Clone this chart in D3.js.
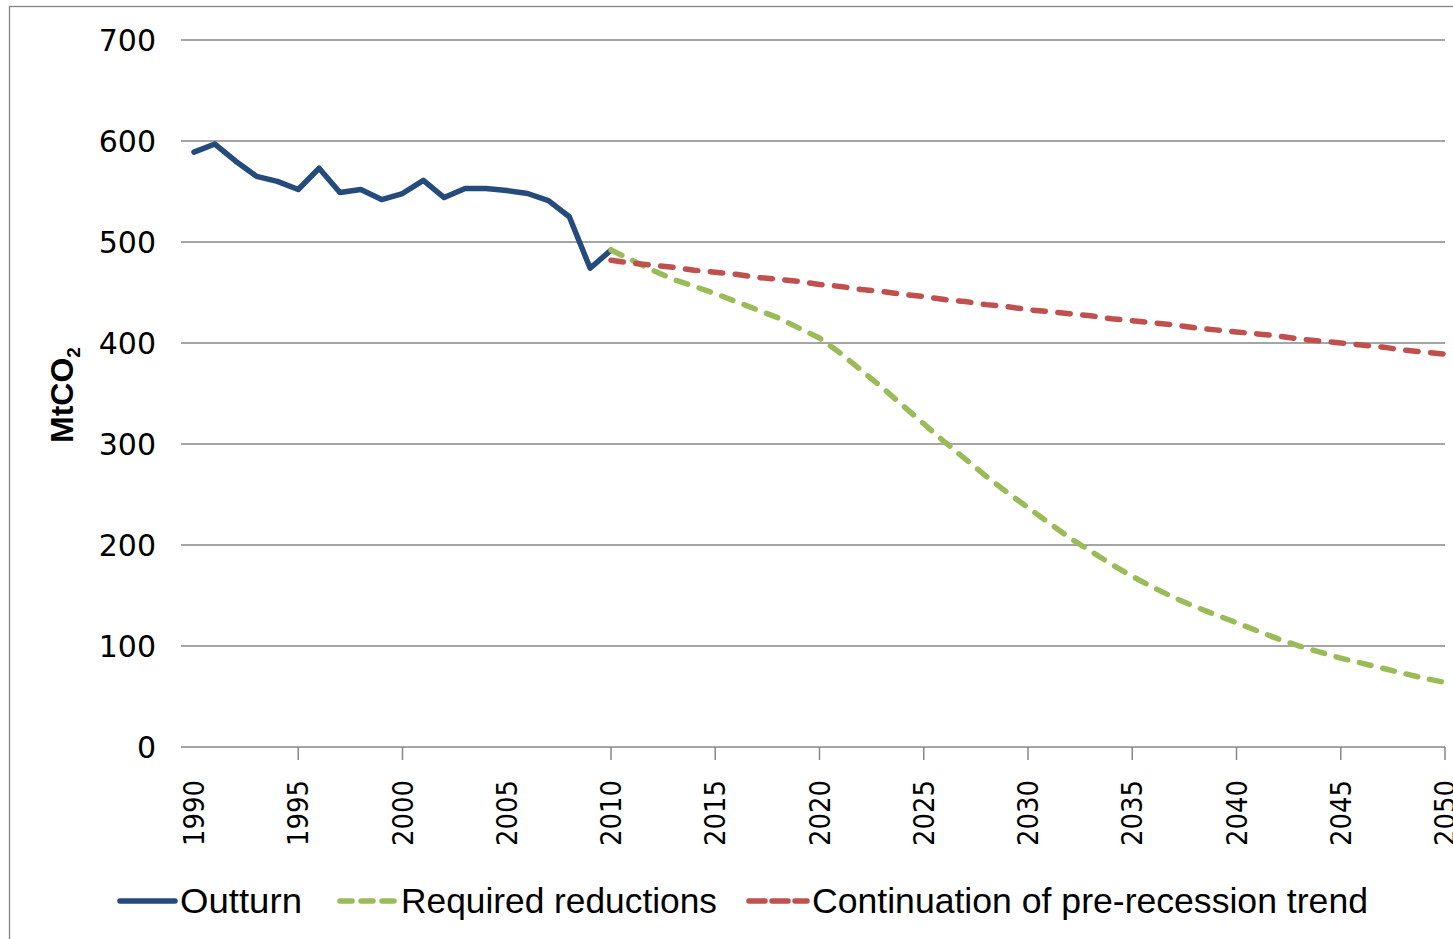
<!DOCTYPE html>
<html>
<head>
<meta charset="utf-8">
<script src="https://cdn.jsdelivr.net/npm/d3@7"></script>
<style>
  html, body { margin: 0; padding: 0; background: #fff; }
  svg { display: block; }
</style>
</head>
<body>
<svg id="chart" width="1453" height="939"></svg>
<script>
// ---- Data ----
const outturnYears = d3.range(1990, 2011);
const outturnValues = [589, 597, 580, 565, 560, 552, 573, 549, 552, 542, 548, 561, 544, 553, 553, 551, 548, 541, 525, 474, 492];

const projYears = d3.range(2010, 2051);
const requiredValues = [492, 482, 472, 463, 456, 449, 441, 433, 425, 415, 405,
  390, 373, 356, 338, 320, 302, 285, 268, 252, 237,
  222, 207, 194, 181, 169, 158, 148, 139, 131, 123,
  115, 107, 100, 94, 88, 83, 78, 73, 68, 64];
const trendValues = [482, 479, 477, 475, 472, 470, 468, 465, 463, 461, 458,
  456, 453, 451, 448, 446, 443, 441, 438, 436, 433,
  431, 429, 427, 424, 422, 420, 418, 415, 413, 411,
  409, 407, 404, 402, 400, 398, 396, 393, 391, 389];

const yTicks = [0, 100, 200, 300, 400, 500, 600, 700];
const xTickLabels = [1990, 1995, 2000, 2005, 2010, 2015, 2020, 2025, 2030, 2035, 2040, 2045, 2050];
const xTickMarks = [1995, 2000, 2010, 2015, 2020, 2025, 2030, 2035, 2040, 2045, 2050];

const seriesNames = ["Outturn", "Required reductions", "Continuation of pre-recession trend"];
const seriesColors = ["#254A7C", "#9BBB59", "#C0504D"];

// ---- Chart ----
const svg = d3.select("#chart");
const plotLeft = 181, plotRight = 1445, plotTop = 40, plotBottom = 747;

const x = d3.scaleLinear().domain([1990, 2050]).range([194, 1445]);
const y = d3.scaleLinear().domain([0, 700]).range([plotBottom, plotTop]);

// outer border
svg.append("rect")
  .attr("x", 9.5).attr("y", 6.5)
  .attr("width", 1470).attr("height", 960)
  .attr("fill", "none").attr("stroke", "#868686").attr("stroke-width", 1.3);

// gridlines
svg.append("g").selectAll("line").data(yTicks.filter(d => d > 0)).join("line")
  .attr("x1", plotLeft).attr("x2", plotRight)
  .attr("y1", d => y(d)).attr("y2", d => y(d))
  .attr("stroke", "#878787").attr("stroke-width", 1.5);

// y axis labels
svg.append("g").selectAll("text").data(yTicks).join("text")
  .attr("x", 156).attr("y", d => y(d))
  .attr("text-anchor", "end").attr("dominant-baseline", "central")
  .attr("font-family", "DejaVu Sans, sans-serif").attr("font-size", 30)
  .attr("fill", "#000").text(d => d);

// x axis line
svg.append("line")
  .attr("x1", plotLeft).attr("x2", plotRight)
  .attr("y1", y(0)).attr("y2", y(0))
  .attr("stroke", "#878787").attr("stroke-width", 1.5);

// tick marks
svg.append("g").selectAll("line").data(xTickMarks).join("line")
  .attr("x1", d => x(d)).attr("x2", d => x(d))
  .attr("y1", y(0)).attr("y2", y(0) + 13)
  .attr("stroke", "#878787").attr("stroke-width", 1.5);

// x tick labels (rotated)
svg.append("g").selectAll("text").data(xTickLabels).join("text")
  .attr("transform", d => `translate(${x(d) + 10},780) rotate(-90)`)
  .attr("text-anchor", "end")
  .attr("font-family", "DejaVu Sans, sans-serif").attr("font-size", 29)
  .attr("textLength", 66).attr("lengthAdjust", "spacingAndGlyphs")
  .attr("fill", "#000").text(d => d);

// y axis title
const yt = svg.append("text")
  .attr("transform", "translate(73,395) rotate(-90)")
  .attr("text-anchor", "middle")
  .attr("font-family", "Liberation Sans, Arial, sans-serif")
  .attr("font-weight", "bold").attr("font-size", 32).attr("fill", "#000");
yt.append("tspan").text("MtCO");
yt.append("tspan").attr("font-size", 19).attr("dy", 7).text("2");

// lines
const line = d3.line().x(d => x(d[0])).y(d => y(d[1]));

svg.append("path")
  .datum(outturnYears.map((yr, i) => [yr, outturnValues[i]]))
  .attr("d", line).attr("fill", "none")
  .attr("stroke", seriesColors[0]).attr("stroke-width", 5.5)
  .attr("stroke-linejoin", "round").attr("stroke-linecap", "round");

svg.append("path")
  .datum(projYears.map((yr, i) => [yr, requiredValues[i]]))
  .attr("d", line).attr("fill", "none")
  .attr("stroke", seriesColors[1]).attr("stroke-width", 5.5)
  .attr("stroke-dasharray", "12,12")
  .attr("stroke-linejoin", "round").attr("stroke-linecap", "round");

svg.append("path")
  .datum(projYears.map((yr, i) => [yr, trendValues[i]]))
  .attr("d", line).attr("fill", "none")
  .attr("stroke", seriesColors[2]).attr("stroke-width", 5.5)
  .attr("stroke-dasharray", "12.5,12.5")
  .attr("stroke-linejoin", "round").attr("stroke-linecap", "round");

// legend
const legendItems = [
  { name: seriesNames[0], color: seriesColors[0], x0: 120, x1: 175, tx: 180, w: 122, dash: null },
  { name: seriesNames[1], color: seriesColors[1], x0: 340, x1: 396, tx: 401, w: 316, dash: "12,9" },
  { name: seriesNames[2], color: seriesColors[2], x0: 749, x1: 807, tx: 812, w: 556, dash: "16,7" }
];
const lg = svg.append("g");
legendItems.forEach(it => {
  const l = lg.append("line")
    .attr("x1", it.x0).attr("x2", it.x1).attr("y1", 901).attr("y2", 901)
    .attr("stroke", it.color).attr("stroke-width", 5.5).attr("stroke-linecap", "round");
  if (it.dash) l.attr("stroke-dasharray", it.dash);
  lg.append("text")
    .attr("x", it.tx).attr("y", 913)
    .attr("font-family", "Liberation Sans, Arial, sans-serif")
    .attr("font-size", 35).attr("fill", "#000")
    .attr("textLength", it.w).attr("lengthAdjust", "spacingAndGlyphs")
    .text(it.name);
});
</script>
</body>
</html>
